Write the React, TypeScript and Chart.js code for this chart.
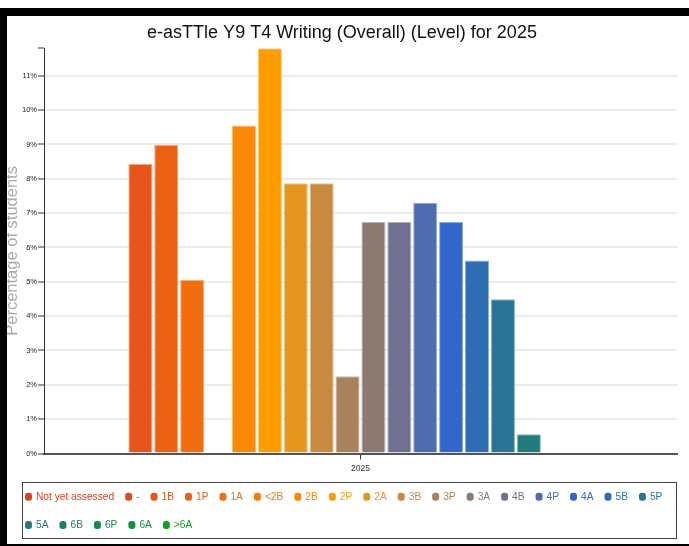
import React, { useEffect, useRef } from 'react';
import { Chart, registerables } from 'chart.js';

Chart.register(...registerables);

// ---- data ----
const categories = ['2025'];
const levelLabels = [
  'Not yet assessed', '-', '1B', '1P', '1A', '<2B', '2B', '2P', '2A', '3B', '3P',
  '3A', '4B', '4P', '4A', '5B', '5P', '5A', '6B', '6P', '6A', '>6A',
];
const levelValues = [
  0, 0, 8.43, 8.99, 5.06, 0, 9.55, 11.8, 7.87, 7.87, 2.25,
  6.74, 6.74, 7.3, 6.74, 5.62, 4.49, 0.56, 0, 0, 0, 0,
];
const levelColors = [
  '#e0401c', '#e34a1a', '#e8551a', '#ec6214', '#f06e0e', '#f47c08', '#f98906', '#ff9c00', '#e6961e', '#c88a3e', '#a8825a',
  '#8a7a72', '#6e7290', '#506cb0', '#3366cc', '#2e6db3', '#2a7498', '#247b7b', '#208062', '#1c884a', '#18903a', '#12a024',
];
const yTitle = 'Percentage of students';
const chartTitle = 'e-asTTle Y9 T4 Writing (Overall) (Level) for 2025';

const SANS = "'Liberation Sans', Arial, Helvetica, sans-serif";

function lighten(hex: string, amt: number) {
  const n = parseInt(hex.slice(1), 16);
  const r = (n >> 16) & 255, g = (n >> 8) & 255, b = n & 255;
  const m = (c: number) => Math.round(c + (255 - c) * amt);
  return `rgb(${m(r)},${m(g)},${m(b)})`;
}

const boxLegend = {
  id: 'boxLegend',
  afterDraw(chart: any) {
    const ctx: CanvasRenderingContext2D = chart.ctx;
    const W = chart.width;
    const H = chart.height;
    const left = 15;
    const right = W - 12;
    const top = H - 62.3;
    const bottom = H - 5;
    ctx.save();
    ctx.strokeStyle = '#444';
    ctx.lineWidth = 1;
    ctx.strokeRect(left + 0.5, Math.round(top) + 0.5, right - left - 1, Math.round(bottom - top) - 1);
    ctx.font = `10.2px ${SANS}`;
    ctx.textBaseline = 'middle';
    ctx.textAlign = 'left';
    let x = left + 3;
    let y = top + 15;
    chart.data.datasets.forEach((ds: any) => {
      const label = ds.label as string;
      const w = ctx.measureText(label).width;
      const itemW = 11 + w;
      if (x + itemW > right - 3) {
        x = left + 3;
        y += 28.3;
      }
      ctx.fillStyle = ds.backgroundColor;
      ctx.beginPath();
      if ((ctx as any).roundRect) (ctx as any).roundRect(x, y - 4, 7, 8, 3);
      else ctx.rect(x, y - 4, 7, 8);
      ctx.fill();
      ctx.fillText(label, x + 11, y + 0.5);
      x += itemW + 11;
    });
    ctx.restore();
  },
};

export default function App() {
  const ref = useRef<HTMLCanvasElement>(null);

  useEffect(() => {
    if (!ref.current) return;
    const yMax = Math.max(...levelValues);
    const chart = new Chart(ref.current, {
      type: 'bar',
      data: {
        labels: categories,
        datasets: levelLabels.map((label, i) => ({
          label,
          data: [levelValues[i]],
          backgroundColor: levelColors[i],
          borderColor: lighten(levelColors[i], 0.45),
          borderWidth: 1,
          barPercentage: 0.93,
          categoryPercentage: 0.9,
        })),
      },
      options: {
        animation: false,
        responsive: true,
        maintainAspectRatio: false,
        layout: { padding: { left: 0, right: 12, top: 0, bottom: 66.3 } },
        plugins: {
          legend: { display: false },
          tooltip: { enabled: false },
          title: {
            display: true,
            text: chartTitle,
            color: '#111',
            font: { family: SANS, size: 18, weight: 'normal' },
            padding: { top: 6.2, bottom: 4.5 },
          },
        },
        scales: {
          x: {
            grid: {
              display: true,
              drawOnChartArea: false,
              drawTicks: true,
              tickLength: 6,
              tickColor: '#333',
              offset: false,
            },
            border: { display: true, color: '#555', width: 2 },
            ticks: { color: '#333', font: { family: SANS, size: 8.5 }, padding: 4 },
          },
          y: {
            min: 0,
            max: yMax,
            afterFit: (scale: any) => {
              scale.width = 37;
            },
            afterBuildTicks: (scale: any) => {
              scale.ticks.push({ value: yMax });
            },
            ticks: {
              stepSize: 1,
              includeBounds: false,
              color: '#222',
              padding: 1,
              font: { family: SANS, size: 7.5 },
              callback: (v: any) => (Number.isInteger(v) ? `${v}%` : ''),
            },
            grid: {
              color: (c: any) => (Number.isInteger(c.tick?.value) ? '#ebebeb' : 'rgba(0,0,0,0)'),
              lineWidth: 2,
              tickColor: '#333',
              tickWidth: 1,
              tickLength: 6,
            },
            border: { display: true, color: '#333', width: 1 },
            title: {
              display: true,
              text: yTitle,
              color: '#aaa',
              font: { family: SANS, size: 16.5, lineHeight: 1 },
              padding: { top: -3, bottom: 0 },
            },
          },
        },
      },
      plugins: [boxLegend],
    } as any);
    return () => chart.destroy();
  }, []);

  return (
    <div
      style={{
        position: 'absolute',
        left: 0,
        top: 8,
        width: 689,
        height: 538,
        boxSizing: 'border-box',
        borderTop: '8px solid #000',
        borderLeft: '7px solid #000',
        borderBottom: '2px solid #000',
        background: '#fff',
      }}
    >
      <div style={{ position: 'relative', width: 682, height: 528 }}>
        <canvas ref={ref} />
      </div>
    </div>
  );
}
